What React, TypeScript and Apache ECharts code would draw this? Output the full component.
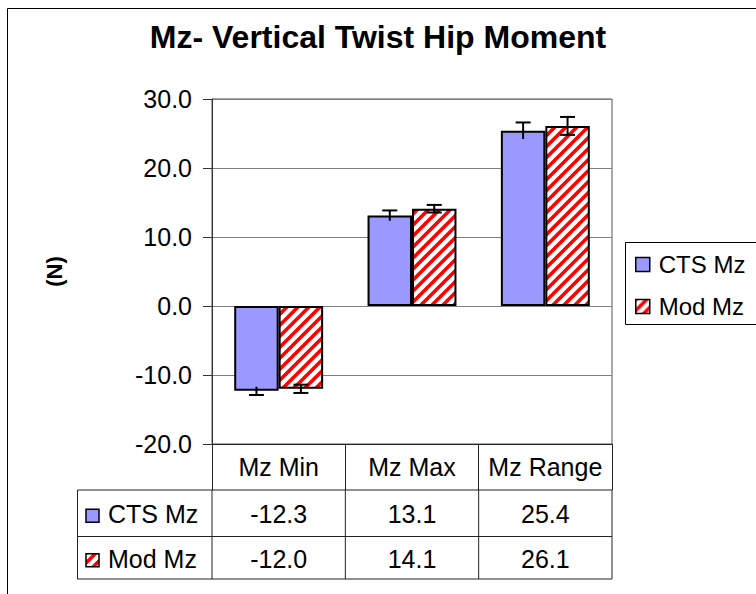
import React, { useEffect, useRef } from 'react';
import * as echarts from 'echarts';

// ---- data ----
const categories = ['Mz Min', 'Mz Max', 'Mz Range'];
const seriesNames = ['CTS Mz', 'Mod Mz'];
const ctsValues = [-12.3, 13.1, 25.4];
const modValues = [-12.0, 14.1, 26.1];
const ctsErrors = [0.6, 0.75, 1.2];
const modErrors = [0.6, 0.55, 1.3];
const yMin = -20;
const yMax = 30;
const yInterval = 10;
const titleText = 'Mz- Vertical Twist Hip Moment';
const yAxisName = '(N)';

const FONT = '"Liberation Sans", Arial, Helvetica, sans-serif';
const BLUE = '#9999FF';
const GRID_L = 212;
const GRID_T = 99;
const GRID_W = 400;
const GRID_H = 345;
const BAR_CAT_GAP = 1 / 3;

function makeStripeCanvas() {
  const s = 11;
  const c = document.createElement('canvas');
  c.width = s;
  c.height = s;
  const ctx = c.getContext('2d')!;
  ctx.fillStyle = '#ffffff';
  ctx.fillRect(0, 0, s, s);
  ctx.strokeStyle = '#ff0000';
  ctx.lineWidth = 3.6;
  ctx.beginPath();
  for (const k of [-s, 0, s]) {
    ctx.moveTo(k - 1, s + 1);
    ctx.lineTo(s + 1 + k, -1);
  }
  ctx.stroke();
  return c;
}

function errorRenderer(offset: number, bothCaps: boolean) {
  return (params: any, api: any) => {
    const idx = api.value(0);
    const val = api.value(1);
    const err = api.value(2);
    const catW = api.size([1, 0])[0];
    const barW = (catW * (1 - BAR_CAT_GAP)) / 2;
    const c = api.coord([idx, val]);
    const x = c[0] + offset * barW;
    const yTop = api.coord([idx, val + err])[1];
    const yBot = api.coord([idx, val - err])[1];
    const outerY = val >= 0 ? yTop : yBot;
    const innerY = val >= 0 ? yBot : yTop;
    const half = 7.5;
    const st = { stroke: '#000', lineWidth: 2 };
    const children: any[] = [
      { type: 'line', shape: { x1: x, y1: yTop, x2: x, y2: yBot }, style: st },
      { type: 'line', shape: { x1: x - half, y1: outerY, x2: x + half, y2: outerY }, style: st },
    ];
    if (bothCaps) {
      children.push({ type: 'line', shape: { x1: x - half, y1: innerY, x2: x + half, y2: innerY }, style: st });
    }
    return { type: 'group', children };
  };
}

export default function App() {
  const ref = useRef<HTMLDivElement>(null);
  useEffect(() => {
    if (!ref.current) return;
    const chart = echarts.init(ref.current, undefined, { renderer: 'svg' });
    const stripe = {
      image: makeStripeCanvas(),
      repeat: 'repeat',
      imageWidth: 11,
      imageHeight: 11,
    } as any;

    const colW = GRID_W / categories.length;
    const tableRight = GRID_L + GRID_W;
    const tableLeft = 77.5;
    const rowLines = [490, 536.5, 579];
    const lineColor = '#222';
    const graphics: any[] = [];
    // outer chart frame
    graphics.push({
      type: 'rect',
      shape: { x: 7.5, y: 8.5, width: 780, height: 620 },
      style: { fill: 'none', stroke: '#000', lineWidth: 1 },
      silent: true,
      z: -10,
    });
    // table horizontal lines
    rowLines.forEach((y) => {
      graphics.push({
        type: 'line',
        shape: { x1: tableLeft, y1: y, x2: tableRight, y2: y },
        style: { stroke: lineColor, lineWidth: 1 },
      });
    });
    // table vertical lines
    const vx = [tableLeft];
    for (let i = 0; i <= categories.length; i++) vx.push(GRID_L + i * colW);
    vx.forEach((x) => {
      graphics.push({
        type: 'line',
        shape: { x1: x, y1: rowLines[0], x2: x, y2: rowLines[rowLines.length - 1] },
        style: { stroke: lineColor, lineWidth: 1 },
      });
    });
    const rows = [
      { name: seriesNames[0], values: ctsValues, fill: BLUE },
      { name: seriesNames[1], values: modValues, fill: stripe },
    ];
    rows.forEach((row, r) => {
      const y0 = rowLines[r];
      const y1 = rowLines[r + 1];
      const cy = (y0 + y1) / 2 + 1;
      graphics.push({
        type: 'rect',
        shape: { x: 86, y: cy - 5, width: 13, height: 13 },
        style: { fill: row.fill, stroke: '#000', lineWidth: 1.5 },
      });
      graphics.push({
        type: 'text',
        style: {
          text: row.name,
          x: 108,
          y: cy,
          fill: '#000',
          fontSize: 25,
          fontFamily: FONT,
          align: 'left',
          verticalAlign: 'middle',
        },
      });
      row.values.forEach((v, i) => {
        graphics.push({
          type: 'text',
          style: {
            text: v.toFixed(1),
            x: GRID_L + (i + 0.5) * colW,
            y: cy,
            fill: '#000',
            fontSize: 25,
            fontFamily: FONT,
            align: 'center',
            verticalAlign: 'middle',
          },
        });
      });
    });

    chart.setOption({
      animation: false,
      backgroundColor: '#fff',
      title: {
        text: titleText,
        left: 'center',
        top: 16,
        textStyle: { fontSize: 32, fontWeight: 'bold', fontFamily: FONT, color: '#000' },
      },
      legend: {
        data: seriesNames.map((n) => ({ name: n, icon: 'rect' })),
        orient: 'vertical',
        left: 625.5,
        top: 242.5,
        padding: [10, 40, 6, 9.5],
        itemGap: 18,
        itemWidth: 14,
        itemHeight: 14,
        borderColor: '#000',
        borderWidth: 1,
        textStyle: { fontSize: 24, fontFamily: FONT, color: '#000', padding: [0, 0, 0, 4] },
        itemStyle: { borderColor: '#000', borderWidth: 1.5 },
      },
      grid: {
        left: GRID_L,
        top: GRID_T,
        width: GRID_W,
        height: GRID_H,
        show: true,
        borderColor: '#555',
        borderWidth: 1,
        containLabel: false,
      },
      xAxis: {
        type: 'category',
        data: categories,
        position: 'bottom',
        axisLine: { onZero: false, lineStyle: { color: '#222', width: 1 } },
        axisTick: { show: true, alignWithLabel: false, interval: 0, length: 46, lineStyle: { color: '#222', width: 1 } },
        axisLabel: { fontSize: 25, fontFamily: FONT, color: '#000', margin: 10, interval: 0, hideOverlap: false },
        splitLine: { show: false },
      },
      yAxis: {
        type: 'value',
        min: yMin,
        max: yMax,
        interval: yInterval,
        name: yAxisName,
        nameLocation: 'middle',
        nameRotate: 90,
        nameGap: 147,
        nameTextStyle: { fontSize: 22, fontWeight: 'bold', fontFamily: FONT, color: '#000' },
        axisLine: { show: true, lineStyle: { color: '#333', width: 1 } },
        axisTick: { show: true, length: 9, lineStyle: { color: '#333', width: 1 } },
        axisLabel: {
          fontSize: 25,
          fontFamily: FONT,
          color: '#000',
          margin: 20,
          formatter: (v: number) => v.toFixed(1),
        },
        splitLine: { show: true, lineStyle: { color: '#808080', width: 1 } },
      },
      series: [
        {
          name: seriesNames[0],
          type: 'bar',
          data: ctsValues,
          barGap: '0%',
          barCategoryGap: '33.3%',
          itemStyle: { color: BLUE, borderColor: '#000', borderWidth: 2 },
        },
        {
          name: seriesNames[1],
          type: 'bar',
          data: modValues,
          barGap: '0%',
          barCategoryGap: '33.3%',
          itemStyle: { color: stripe, borderColor: '#000', borderWidth: 2 },
        },
        {
          name: 'CTS err',
          type: 'custom',
          renderItem: errorRenderer(-0.5, false),
          data: ctsValues.map((v, i) => [i, v, ctsErrors[i]]),
          z: 10,
          clip: false,
        },
        {
          name: 'Mod err',
          type: 'custom',
          renderItem: errorRenderer(0.5, true),
          data: modValues.map((v, i) => [i, v, modErrors[i]]),
          z: 10,
          clip: false,
        },
      ],
      graphic: graphics,
    });
    return () => chart.dispose();
  }, []);
  return (
    <div
      ref={ref}
      style={{ position: 'fixed', left: 0, top: 0, width: 756, height: 594, background: '#fff' }}
    />
  );
}
